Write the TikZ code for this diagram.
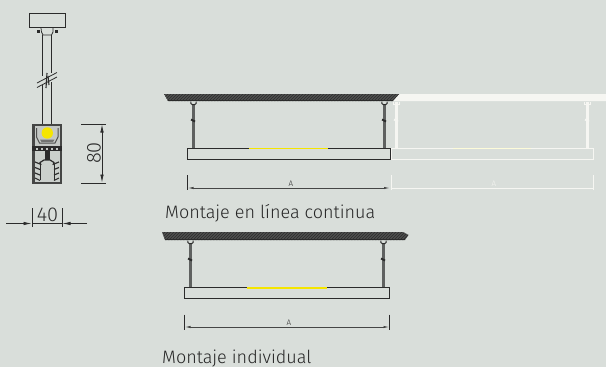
\documentclass[tikz,border=0pt]{standalone}
\usepackage{fontspec}
\setmainfont{Fira Sans Light}
\usetikzlibrary{patterns,arrows.meta}
\definecolor{bgc}{HTML}{D9DEDA}
\definecolor{ink}{HTML}{2B2B2B}
\definecolor{lampy}{HTML}{F5E500}
\definecolor{palew}{HTML}{F6F6F2}
\tikzset{
  x=1pt,y=-1pt,
  caption/.style={anchor=base west,inner sep=0pt,font=\fontsize{18}{20}\selectfont,text=black!85},
  dimlabel/.style={inner sep=0pt,font=\fontsize{20}{22}\selectfont,text=ink},
  smalllabel/.style={inner sep=0pt,font=\fontsize{8}{8}\selectfont},
  dimline/.style={line width=.6pt,draw=ink},
  dimtip/.style={-{Latex[length=8pt,width=3.5pt]},line width=.7pt,draw=ink},
  spantip/.style={{Latex[length=6pt,width=2.2pt]}-{Latex[length=6pt,width=2.2pt]},line width=.7pt,draw=ink!85!bgc},
  ceiling/.style={fill=ink!80!bgc},
  rodstyle/.style={draw=ink!70!bgc,line width=2.6pt},
  boxstyle/.style={draw=ink,line width=1pt},
}
\newcommand{\rodgroup}[3]{% x, ceiling bottom, box top
  \draw[rodstyle] (#1,#2+1) -- (#1,#3);
  \draw[ink,line width=1pt,fill=bgc] (#1-2.6,#2+.5) -- (#1-2.6,#2+2.5) -- (#1-1.2,#2+3.6) -- (#1+1.2,#2+3.6) -- (#1+2.6,#2+2.5) -- (#1+2.6,#2+.5);
  \draw[ink,line width=1.8pt] (#1-2.5,#2+18.5) -- (#1+1.5,#2+20.5);
}
\begin{document}
\begin{tikzpicture}
\useasboundingbox (0,0) rectangle (606,367);
\fill[bgc] (0,0) rectangle (606,367);

% --- side section ---
\draw[ink,line width=1pt,fill=bgc] (29,13) rectangle (65.5,27);
\draw[ink,line width=.7pt] (41,28) -- (41.5,32) -- (43,35) -- (51.5,35) -- (53,32) -- (53,28);
\fill[ink] (36.5,30) rectangle (40,33);
\fill[ink] (54.5,30) rectangle (58,33);
\draw[ink,line width=.8pt] (42.5,35) -- (42.5,76);
\draw[ink,line width=.8pt] (51.5,35) -- (51.5,73);
\draw[ink,line width=.8pt] (42.5,85) -- (42.5,124);
\draw[ink,line width=.8pt] (51.5,82) -- (51.5,124);
\draw[ink,line width=.8pt] (37,83) -- (57,72.5);
\draw[ink,line width=.8pt] (37,87.5) -- (57,77);
\draw[ink,line width=1.1pt] (46,88) -- (47,73);
\draw[ink,line width=1.1pt] (49,85) -- (48,76);
% fixture
\fill[ink!85!bgc] (32,124) rectangle (62,183.5);
\fill[ink!12!bgc] (34.5,126) rectangle (59.5,146);
\draw[ink!80!bgc,line width=1pt] (36.5,128) -- (36.5,137) -- (39.5,143) -- (55,143) -- (58,137) -- (58,128);
\fill[ink!60!bgc] (40,139.5) -- (54.5,139.5) -- (53,142) -- (41.5,142) -- cycle;
\fill[ink] (32,146) rectangle (62,151);
\foreach \i in {0,1,2,3,4}{\fill[ink!12!bgc] (36+\i*5,147.5) rectangle (38+\i*5,150);}
\fill[ink!8!bgc] (34.5,151) rectangle (59.5,181.5);
\fill[ink] (44.5,150) rectangle (49.5,160);
\draw[ink,line width=1.2pt] (41,165) -- (40,162.5) -- (44,160) -- (50,160) -- (54,162.5) -- (53,165);
\foreach \i in {0,1,2}{
  \draw[ink,line width=1.2pt] (35,162+\i*5.5) -- (40,164+\i*5.5);
  \draw[ink,line width=1.2pt] (59,162+\i*5.5) -- (54,164+\i*5.5);
}
\draw[ink,line width=1pt] (40,164) -- (40,180);
\draw[ink,line width=1pt] (54,164) -- (54,180);
\draw[ink,line width=1pt] (35,178) -- (40,180.5);
\draw[ink,line width=1pt] (59,178) -- (54,180.5);
\fill[lampy] (47.3,133) circle (5.7);

% dims
\draw[dimline] (81,124) -- (105.5,124);
\draw[dimline] (81,183) -- (105.5,183);
\draw[dimtip] (102,153) -- (102,124.5);
\draw[dimtip] (102,153) -- (102,182.5);
\node[dimlabel,rotate=90] (h80) at (94,153) {80};
\draw[dimline] (32,208) -- (32,227);
\draw[dimline] (62,208) -- (62,227);
\draw[dimline] (32,223.5) -- (62,223.5);
\draw[dimtip] (6,223.5) -- (31.5,223.5);
\draw[dimtip] (87,223.5) -- (62.5,223.5);
\node[dimlabel] (w40) at (47.5,214.5) {40};

% --- white duplicate (continuous line) ---
\fill[palew] (398,94) -- (606,94) -- (606,101) -- (393,101) -- cycle;
\begin{scope}[palew]
\draw[line width=1pt] (391,148.5) rectangle (593.5,159.5);
\foreach \rx in {396.5,587.5}{
  \draw[line width=2.4pt] (\rx,102) -- (\rx,148);
  \draw[line width=1pt] (\rx-2.6,101.5) -- (\rx-2.6,104) -- (\rx+2.6,104) -- (\rx+2.6,101.5);
  \draw[line width=1.8pt] (\rx-2.5,119.5) -- (\rx+1.5,121.5);
}
\draw[line width=.8pt] (391,175) -- (391,190);
\draw[line width=.8pt] (593.5,175) -- (593.5,190);
\draw[line width=1pt] (391,188) -- (593.5,188);
\end{scope}
\draw[lampy!15!white,line width=1.3pt] (453,148.5) -- (531,148.5);
\node[smalllabel,text=palew] (aw) at (494,183.5) {A};

% --- first luminaire ---
\fill[ceiling] (164,94) -- (399,94) -- (393,101) -- (168,101) -- cycle;
\pattern[pattern=north east lines,pattern color=ink] (164,94) -- (399,94) -- (393,101) -- (168,101) -- cycle;
\draw[ink,line width=1.3pt] (168,100.6) -- (393,100.6);
\draw[boxstyle] (187.5,148.5) rectangle (390,159.5);
\rodgroup{193.5}{101}{148}
\rodgroup{384.5}{101}{148}
\draw[lampy,line width=1.8pt] (249,148.5) -- (328,148.5);
\draw[ink,line width=.7pt] (187.5,175) -- (187.5,190);
\draw[spantip] (187.5,188) -- (390,188);
\node[smalllabel,text=ink] (a1) at (291,183.5) {A};
\node[caption] (cap1) at (165,218.5) {Montaje en línea continua};

% --- second luminaire ---
\fill[ceiling] (162,232) -- (403,232) -- (408.5,235) -- (405,240) -- (165,240) -- cycle;
\pattern[pattern=north east lines,pattern color=ink] (162,232) -- (403,232) -- (408.5,235) -- (405,240) -- (165,240) -- cycle;
\draw[ink,line width=1.3pt] (165,239.6) -- (405,239.6);
\draw[boxstyle] (184.5,287.5) rectangle (389.5,298.5);
\rodgroup{190.5}{240}{287}
\rodgroup{383.5}{240}{287}
\draw[lampy,line width=1.8pt] (247,287.8) -- (327,287.8);
\draw[ink,line width=.7pt] (184.5,314.5) -- (184.5,330);
\draw[ink,line width=.7pt] (389.5,314.5) -- (389.5,330);
\draw[spantip] (184.5,327) -- (389.5,327);
\node[smalllabel,text=ink] (a2) at (289,323) {A};
\node[caption] (cap2) at (162,363.5) {Montaje individual};
\end{tikzpicture}
\end{document}
